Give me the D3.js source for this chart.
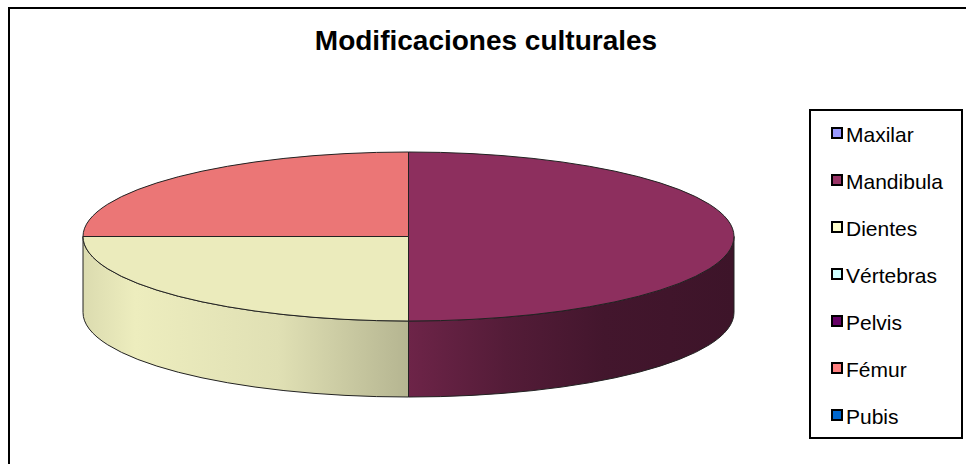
<!DOCTYPE html>
<html>
<head>
<meta charset="utf-8">
<script src="https://cdn.jsdelivr.net/npm/d3@7"></script>
<style>
  html, body { margin: 0; padding: 0; background: #fff; }
  svg { display: block; font-family: "Liberation Sans", Arial, sans-serif; }
</style>
</head>
<body>
<svg id="chart" width="966" height="464"></svg>
<script>
// Data
const title = "Modificaciones culturales";
const categories = ["Maxilar", "Mandibula", "Dientes", "Vértebras", "Pelvis", "Fémur", "Pubis"];
const values = [0, 2, 1, 0, 0, 1, 0];
const colors = ["#9999FF", "#993366", "#FFFFCC", "#CCFFFF", "#660066", "#FF8080", "#0066CC"];

const svg = d3.select("#chart");
const defs = svg.append("defs");

// Chart frame (extends past the right/bottom of the view)
svg.append("rect")
  .attr("x", 9).attr("y", 8).attr("width", 1000).attr("height", 500)
  .attr("fill", "#fff").attr("stroke", "#000").attr("stroke-width", 2);

// Title
svg.append("text")
  .attr("x", 486).attr("y", 50)
  .attr("text-anchor", "middle")
  .attr("font-size", 28).attr("font-weight", "bold")
  .attr("fill", "#000")
  .text(title);

// 3D pie geometry
const cx = 408.5, cy = 236.5, rx = 325.5, ry = 84.5, depth = 76;
const pt = (a, dy = 0) => [cx + rx * Math.sin(a), cy - ry * Math.cos(a) + dy];

const pie = d3.pie().sort(null).value(d => d.value);
const arcs = pie(categories.map((c, i) => ({ name: c, value: values[i], color: colors[i], i })))
  .filter(d => d.endAngle - d.startAngle > 1e-9);

// Horizontal lighting along the side wall: [offset along width, brightness]
const sideShade = [[0, 0.86], [0.08, 0.93], [0.3, 0.88], [0.5, 0.71], [0.65, 0.55], [0.8, 0.44], [1, 0.40]];
const topShade = 0.92;
const shadeColor = (c, k) => {
  const r = d3.rgb(c);
  return d3.rgb(r.r * k, r.g * k, r.b * k).formatHex();
};

arcs.forEach(d => {
  const g = defs.append("linearGradient")
    .attr("id", "side" + d.data.i)
    .attr("gradientUnits", "userSpaceOnUse")
    .attr("x1", cx - rx).attr("x2", cx + rx).attr("y1", 0).attr("y2", 0);
  sideShade.forEach(([o, k]) => {
    g.append("stop").attr("offset", o).attr("stop-color", shadeColor(d.data.color, k));
  });
});

const sideGroup = svg.append("g");
const topGroup = svg.append("g");

// Side walls: only the front half (angles between π/2 and 3π/2) is visible
arcs.forEach(d => {
  const s = Math.max(d.startAngle, Math.PI / 2);
  const e = Math.min(d.endAngle, 3 * Math.PI / 2);
  if (e <= s) return;
  const p0 = pt(s), p1 = pt(e), q1 = pt(e, depth), q0 = pt(s, depth);
  const large = (e - s) > Math.PI ? 1 : 0;
  const path = `M${p0}A${rx},${ry} 0 ${large} 1 ${p1}L${q1}A${rx},${ry} 0 ${large} 0 ${q0}Z`;
  sideGroup.append("path")
    .attr("d", path)
    .attr("fill", `url(#side${d.data.i})`)
    .attr("stroke", "#222").attr("stroke-width", 1).attr("stroke-linejoin", "round");
});

// Top surface
arcs.forEach(d => {
  const p0 = pt(d.startAngle), p1 = pt(d.endAngle);
  const large = (d.endAngle - d.startAngle) > Math.PI ? 1 : 0;
  const path = `M${cx},${cy}L${p0}A${rx},${ry} 0 ${large} 1 ${p1}Z`;
  topGroup.append("path")
    .attr("d", path)
    .attr("fill", shadeColor(d.data.color, topShade))
    .attr("stroke", "#222").attr("stroke-width", 1).attr("stroke-linejoin", "round");
});

// Legend
const lgX = 810, lgY = 110, lgW = 152, lgH = 328;
svg.append("rect")
  .attr("x", lgX).attr("y", lgY).attr("width", lgW).attr("height", lgH)
  .attr("fill", "#fff").attr("stroke", "#000").attr("stroke-width", 2);

const rowY = d3.scalePoint().domain(categories).range([134, 416]);
const items = svg.append("g").selectAll("g").data(categories).join("g")
  .attr("transform", c => `translate(0,${rowY(c)})`);
items.append("rect")
  .attr("x", 832).attr("y", -6).attr("width", 10).attr("height", 10)
  .attr("fill", (c, i) => colors[i])
  .attr("stroke", "#000").attr("stroke-width", 2);
items.append("text")
  .attr("x", 846).attr("y", 7.5)
  .attr("font-size", 21).attr("fill", "#000")
  .text(c => c);
</script>
</body>
</html>
